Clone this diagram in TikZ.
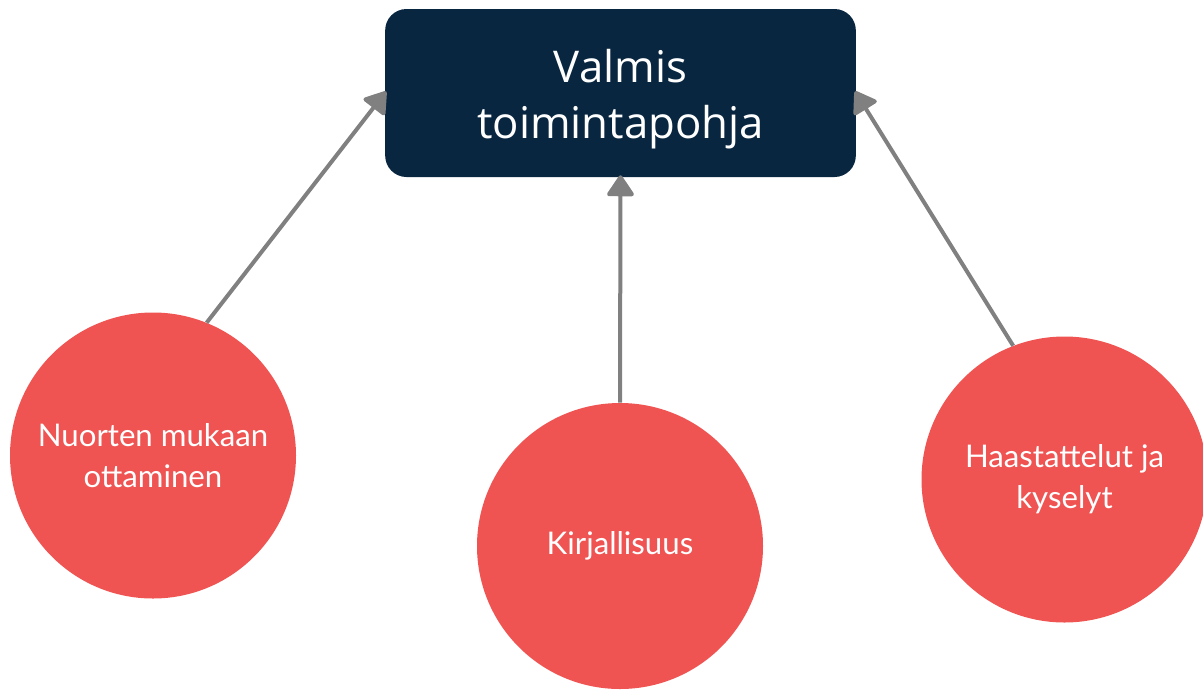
\documentclass[tikz,border=0pt]{standalone}
\usepackage{fontspec}
\setmainfont{Lato}
\newfontfamily\titlefont{Open Sans}
\usetikzlibrary{arrows.meta}
\definecolor{navy}{RGB}{8,38,64}
\definecolor{coral}{RGB}{239,84,83}
\definecolor{arrowgray}{RGB}{128,128,128}
\tikzset{
  titlebox/.style={fill=navy, rounded corners=16pt, minimum width=353pt, minimum height=126pt,
    inner sep=0pt},
  titletext/.style={inner sep=0pt, text=white, align=center,
    font=\titlefont\fontsize{32.8pt}{42pt}\selectfont},
  bubble/.style={circle, fill=coral, minimum size=214.5pt, inner sep=0pt, text=white,
    align=center, font=\fontsize{23.4pt}{30.75pt}\selectfont},
  link/.style={draw=arrowgray, line width=3pt,
    -{Triangle[length=17pt,width=22pt,round]}, shorten >=-1.5pt}
}
\begin{document}
\begin{tikzpicture}[x=0.75pt,y=-0.75pt]
\useasboundingbox (0,0) rectangle (1203,693);
\node[titlebox] (top) at (620.5,93) {};
\node[titletext] (toptext) at ([yshift=-4.5pt]top.center) {Valmis\\toimintapohja};
\node[bubble] (c1) at (153,455.5) {Nuorten mukaan\\ottaminen};
\node[bubble] (c2) at (620,546) {Kirjallisuus};
\node[bubble] (c3) at (1064.5,479.5) {Haastattelut ja\\kyselyt};
\draw[link] (c1.68) -- (top.west);
\draw[link] (c2.north) -- (top.south);
\draw[link] (c3.111.5) -- (top.east);
\end{tikzpicture}
\end{document}
